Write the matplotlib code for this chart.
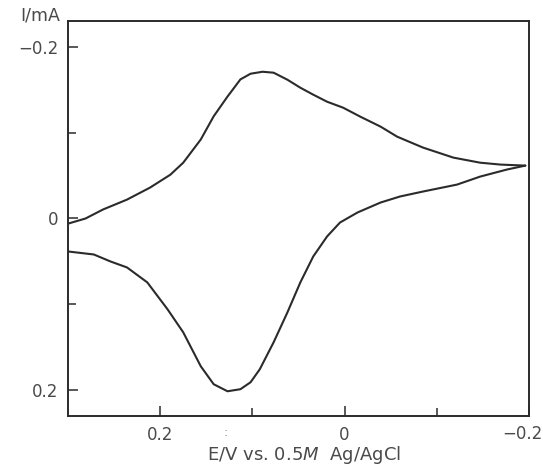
import matplotlib
matplotlib.use("Agg")
import matplotlib.pyplot as plt
from matplotlib.ticker import FixedLocator, NullFormatter

# Cyclic voltammogram: potential E (V vs. 0.5 M Ag/AgCl) and current I (mA)
# Upper branch (negative current), from the positive end to the switching potential
E_upper = [0.300, 0.281, 0.262, 0.236, 0.211, 0.189, 0.175, 0.156, 0.142, 0.127,
           0.113, 0.102, 0.089, 0.077, 0.062, 0.048, 0.034, 0.019, 0.0015, -0.017,
           -0.039, -0.057, -0.085, -0.118, -0.147, -0.169, -0.196]
I_upper = [0.006, 0.000, -0.0105, -0.022, -0.036, -0.051, -0.065, -0.092, -0.119,
           -0.142, -0.162, -0.1686, -0.1709, -0.1698, -0.1616, -0.1523, -0.1442,
           -0.136, -0.129, -0.1186, -0.107, -0.0953, -0.0826, -0.0709, -0.065,
           -0.0628, -0.0616]

# Lower branch (positive current), from the switching potential back
E_lower = [-0.196, -0.176, -0.147, -0.122, -0.085, -0.060, -0.039, -0.014, 0.005,
           0.019, 0.034, 0.048, 0.062, 0.077, 0.092, 0.102, 0.113, 0.127, 0.142,
           0.156, 0.175, 0.192, 0.214, 0.236, 0.254, 0.272, 0.300]
I_lower = [-0.0616, -0.057, -0.0488, -0.0395, -0.0314, -0.0256, -0.0186, -0.007,
           0.0047, 0.0209, 0.0442, 0.0744, 0.1093, 0.1442, 0.1756, 0.1907, 0.1988,
           0.2012, 0.193, 0.1721, 0.1326, 0.1058, 0.0744, 0.057, 0.050, 0.0419,
           0.0384]

x_major = [0.2, 0.0, -0.2]
x_major_labels = ["0.2", "0", ""]
x_minor = [0.1, -0.1]
y_major = [-0.2, 0.0, 0.2]
y_major_labels = ["\u22120.2", "0", "0.2"]
y_minor = [-0.1, 0.1]

ink = "#2b2b2b"
text_ink = "#4a4a4a"

fig = plt.figure(figsize=(5.43, 4.70), dpi=100)
ax = fig.add_axes([68 / 543, 1 - 416 / 470, (529 - 68) / 543, (416 - 21) / 470])

ax.plot(E_upper, I_upper, color=ink, lw=1.5, solid_joinstyle="round",
        solid_capstyle="round")
ax.plot(E_lower, I_lower, color=ink, lw=1.5, solid_joinstyle="round",
        solid_capstyle="round")

ax.set_xlim(0.30, -0.20)
ax.set_ylim(0.23, -0.23)

for s in ax.spines.values():
    s.set_linewidth(1.4)
    s.set_color(ink)

ax.xaxis.set_major_locator(FixedLocator(x_major))
ax.set_xticklabels(x_major_labels)
ax.xaxis.set_minor_locator(FixedLocator(x_minor))
ax.xaxis.set_minor_formatter(NullFormatter())
ax.yaxis.set_major_locator(FixedLocator(y_major))
ax.set_yticklabels(y_major_labels)
ax.yaxis.set_minor_locator(FixedLocator(y_minor))
ax.yaxis.set_minor_formatter(NullFormatter())

ax.tick_params(which="major", direction="in", length=7.5, width=1.1, color=ink,
               labelsize=12, labelcolor=text_ink, pad=7)
ax.tick_params(which="minor", direction="in", length=5.5, width=1.1, color=ink)
ax.tick_params(top=False, right=False, which="both")

# right-end tick label sits just inside the figure edge
fig.text(542 / 543, 1 - 434 / 470, "\u22120.2", ha="right", va="center",
         fontsize=12, color=text_ink)
ax.text(0.129, -0.026, ":", transform=ax.get_xaxis_transform(),
        ha="center", va="top", fontsize=9, color="#8a8a8a")

fig.text(60 / 543, 1 - 16 / 470, "I/mA", ha="right", va="center",
         fontsize=12.5, color=text_ink)
fig.text(207 / 543, 1 - 455 / 470, "E/V vs. 0.5$\\it{M}$  Ag/AgCl", ha="left",
         va="center", fontsize=13, color=text_ink)

fig.savefig("out.png", dpi=100, facecolor="white")
